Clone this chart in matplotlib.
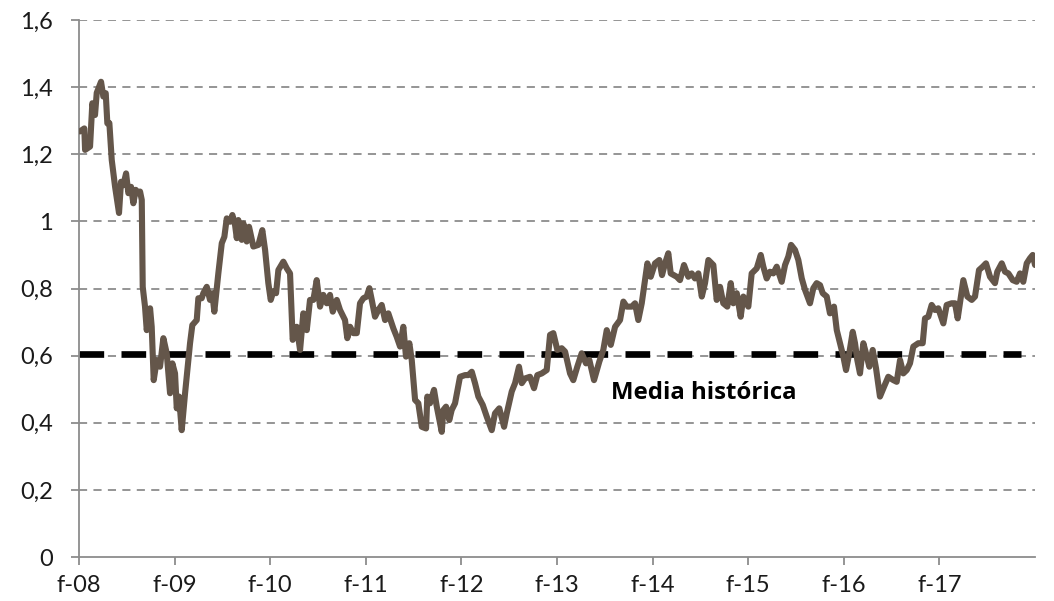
import matplotlib
matplotlib.use("Agg")
import matplotlib.pyplot as plt
from matplotlib.ticker import FixedLocator

# time axis: years elapsed since February 2008
years_since_feb08 = [
    0.010, 0.055, 0.063, 0.115, 0.139, 0.167, 0.185, 0.230, 0.254, 0.279, 0.296, 0.317,
    0.342, 0.377, 0.418, 0.439, 0.463, 0.492, 0.516, 0.544, 0.568, 0.593, 0.620, 0.638,
    0.656, 0.666, 0.690, 0.708, 0.743, 0.760, 0.781, 0.813, 0.847, 0.882, 0.917, 0.952,
    0.976, 1.004, 1.022, 1.046, 1.074, 1.109, 1.161, 1.185, 1.231, 1.248, 1.283, 1.300,
    1.336, 1.370, 1.394, 1.415, 1.457, 1.493, 1.520, 1.545, 1.579, 1.604, 1.632, 1.650,
    1.666, 1.702, 1.719, 1.754, 1.778,
    1.823, 1.876, 1.917, 1.946, 1.980, 2.005, 2.032, 2.061, 2.085, 2.137, 2.173, 2.207,
    2.235, 2.277, 2.312, 2.346, 2.382, 2.416, 2.451, 2.486, 2.521, 2.555, 2.591, 2.625,
    2.654, 2.696, 2.730, 2.782, 2.806, 2.835, 2.869, 2.905, 2.939, 2.974, 3.009, 3.037,
    3.062, 3.096, 3.131, 3.166, 3.201, 3.235, 3.288, 3.323, 3.358, 3.392, 3.420, 3.455,
    3.480, 3.515, 3.549,
    3.585, 3.630, 3.643, 3.671, 3.713, 3.742, 3.794, 3.811, 3.839, 3.873, 3.898, 3.933,
    3.985, 4.038, 4.072, 4.108, 4.142, 4.177, 4.223, 4.265, 4.317, 4.351, 4.396, 4.446,
    4.474, 4.526, 4.561, 4.602, 4.631, 4.665, 4.717, 4.759, 4.794, 4.840, 4.892, 4.927,
    4.961, 5.003, 5.049, 5.084, 5.136, 5.170, 5.212, 5.258, 5.303, 5.338, 5.387, 5.442,
    5.484, 5.520, 5.562, 5.607, 5.659, 5.694, 5.729, 5.781, 5.816, 5.850, 5.886, 5.920,
    5.945, 5.980, 6.025, 6.070, 6.098, 6.130, 6.164, 6.189, 6.252, 6.286,
    6.328, 6.373, 6.409, 6.443, 6.478, 6.514, 6.548, 6.583, 6.635, 6.670, 6.705, 6.739,
    6.781, 6.817, 6.844, 6.880, 6.921, 6.949, 7.001, 7.036, 7.089, 7.131, 7.158, 7.193,
    7.228, 7.262, 7.298, 7.350, 7.385, 7.419, 7.448, 7.489, 7.524, 7.560, 7.594, 7.646,
    7.681, 7.716, 7.751, 7.779, 7.821, 7.855, 7.897, 7.926, 7.960, 7.995, 8.023, 8.057,
    8.093, 8.117, 8.141, 8.169, 8.204, 8.232, 8.267, 8.302, 8.337, 8.378, 8.420, 8.465,
    8.518, 8.553, 8.588, 8.622, 8.658, 8.692, 8.727, 8.779, 8.825, 8.849, 8.884, 8.919,
    8.954, 8.988, 9.041, 9.076, 9.128, 9.163, 9.191, 9.250, 9.292, 9.338, 9.372, 9.414,
    9.453, 9.487, 9.529, 9.581, 9.605, 9.652, 9.686, 9.721, 9.767, 9.808, 9.843, 9.877,
    9.913, 9.947, 9.976, 10.000,
]

ratio_values = [
    1.268, 1.277, 1.213, 1.223, 1.352, 1.317, 1.383, 1.416, 1.372, 1.382, 1.292, 1.293,
    1.183, 1.103, 1.025, 1.118, 1.108, 1.143, 1.084, 1.103, 1.054, 1.094, 1.084, 1.089,
    1.064, 0.805, 0.746, 0.676, 0.741, 0.686, 0.527, 0.587, 0.567, 0.652, 0.607, 0.488,
    0.577, 0.547, 0.443, 0.478, 0.378, 0.488, 0.637, 0.691, 0.706, 0.771, 0.771, 0.786,
    0.805, 0.766, 0.786, 0.731, 0.845, 0.935, 0.954, 1.009, 0.999, 1.019, 0.989, 0.950,
    1.004, 0.945, 0.994, 0.940, 0.984,
    0.925, 0.930, 0.974, 0.915, 0.816, 0.766, 0.791, 0.786, 0.855, 0.880, 0.860, 0.845,
    0.647, 0.686, 0.617, 0.726, 0.676, 0.766, 0.766, 0.825, 0.746, 0.781, 0.756, 0.781,
    0.731, 0.766, 0.736, 0.706, 0.652, 0.686, 0.667, 0.667, 0.756, 0.771, 0.776, 0.801,
    0.766, 0.716, 0.736, 0.751, 0.706, 0.726, 0.681, 0.656, 0.627, 0.686, 0.597, 0.637,
    0.587, 0.468, 0.458,
    0.388, 0.383, 0.478, 0.458, 0.498, 0.448, 0.373, 0.438, 0.448, 0.408, 0.438, 0.458,
    0.537, 0.542, 0.542, 0.552, 0.518, 0.478, 0.453, 0.418, 0.378, 0.428, 0.443, 0.388,
    0.428, 0.493, 0.518, 0.567, 0.518, 0.532, 0.537, 0.503, 0.542, 0.547, 0.557, 0.662,
    0.667, 0.617, 0.622, 0.612, 0.547, 0.527, 0.567, 0.607, 0.577, 0.587, 0.527, 0.582,
    0.617, 0.676, 0.632, 0.686, 0.706, 0.761, 0.746, 0.746, 0.756, 0.706, 0.756, 0.825,
    0.875, 0.835, 0.875, 0.885, 0.840, 0.875, 0.905, 0.845, 0.835, 0.825,
    0.870, 0.835, 0.845, 0.830, 0.845, 0.776, 0.816, 0.885, 0.870, 0.766, 0.805, 0.756,
    0.746, 0.816, 0.756, 0.786, 0.716, 0.776, 0.746, 0.845, 0.860, 0.900, 0.865, 0.830,
    0.850, 0.845, 0.865, 0.820, 0.870, 0.895, 0.930, 0.915, 0.885, 0.830, 0.796, 0.756,
    0.801, 0.816, 0.810, 0.786, 0.776, 0.726, 0.746, 0.676, 0.637, 0.597, 0.557, 0.607,
    0.671, 0.637, 0.587, 0.547, 0.637, 0.607, 0.567, 0.617, 0.562, 0.478, 0.507, 0.537,
    0.527, 0.522, 0.587, 0.547, 0.557, 0.577, 0.627, 0.637, 0.637, 0.711, 0.716, 0.751,
    0.736, 0.741, 0.696, 0.751, 0.756, 0.756, 0.711, 0.825, 0.776, 0.766, 0.776, 0.855,
    0.865, 0.875, 0.835, 0.816, 0.850, 0.875, 0.850, 0.845, 0.825, 0.820, 0.845, 0.820,
    0.875, 0.890, 0.900, 0.870,
]

historical_mean = 0.605
mean_label = "Media histórica"

x_tick_positions = [0, 1, 2, 3, 4, 5, 6, 7, 8, 9]
x_tick_labels = ["f-08", "f-09", "f-10", "f-11", "f-12", "f-13", "f-14", "f-15", "f-16", "f-17"]
y_tick_values = [0, 0.2, 0.4, 0.6, 0.8, 1.0, 1.2, 1.4, 1.6]
y_tick_labels = ["0", "0,2", "0,4", "0,6", "0,8", "1", "1,2", "1,4", "1,6"]

fig = plt.figure(figsize=(10.54, 6.01), dpi=100)
ax = fig.add_axes([0.075, 0.0732, 0.907, 0.8935])

axis_gray = "#8c8c8c"
for yv in y_tick_values[1:]:
    ax.axhline(yv, color=axis_gray, lw=1.3, ls=(0, (4.5, 3.5)), zorder=1)

ax.axhline(historical_mean, xmin=0, xmax=0.985, color="black", lw=4.8,
           ls=(0, (3.7, 2.6)), zorder=2)

ax.plot(years_since_feb08, ratio_values, color="#64564a", lw=4.4,
        solid_joinstyle="round", solid_capstyle="round", zorder=3)

ax.text(5.56, 0.49, mean_label, fontsize=17.3, fontweight="bold",
        family=["Open Sans", "DejaVu Sans"], ha="left", va="center", color="black")

ax.set_xlim(0, 10.0)
ax.set_ylim(0, 1.6)
ax.xaxis.set_major_locator(FixedLocator(x_tick_positions))
ax.set_xticklabels(x_tick_labels, fontsize=17, family=["Lato", "DejaVu Sans"],
                   color="#1a1a1a")
ax.yaxis.set_major_locator(FixedLocator(y_tick_values))
ax.set_yticklabels(y_tick_labels, fontsize=17, family=["Lato", "DejaVu Sans"],
                   color="#1a1a1a")

for s in ["top", "right"]:
    ax.spines[s].set_visible(False)
for s in ["left", "bottom"]:
    ax.spines[s].set_color(axis_gray)
    ax.spines[s].set_linewidth(1.3)

ax.tick_params(axis="both", color=axis_gray, width=1.3, length=6, direction="out")
ax.tick_params(axis="y", pad=13)
ax.tick_params(axis="x", pad=7)

fig.savefig("out.png", dpi=100)
